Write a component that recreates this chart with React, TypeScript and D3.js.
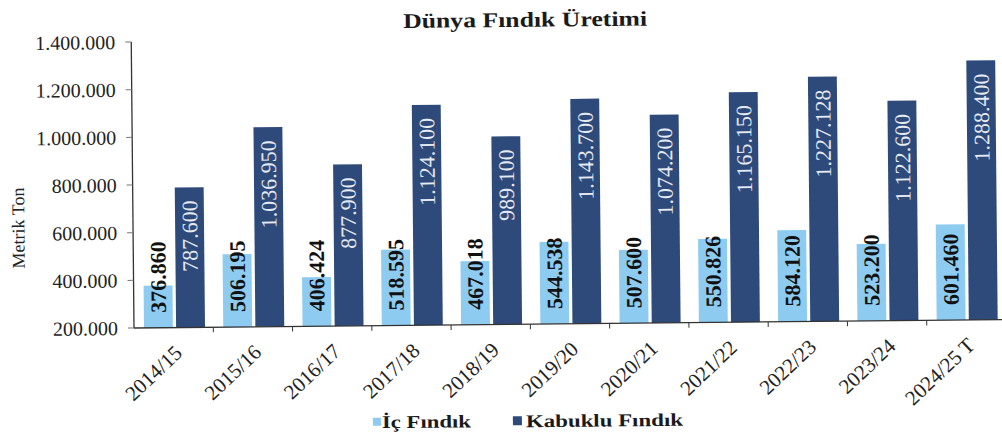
import React from "react";
import * as d3 from "d3";

const categories = ["2014/15", "2015/16", "2016/17", "2017/18", "2018/19", "2019/20", "2020/21", "2021/22", "2022/23", "2023/24", "2024/25 T"];
const icFindik = [376860, 506195, 406424, 518595, 467018, 544538, 507600, 550826, 584120, 523200, 601460];
const kabukluFindik = [787600, 1036950, 877900, 1124100, 989100, 1143700, 1074200, 1165150, 1227128, 1122600, 1288400];
const yTicks = [200000, 400000, 600000, 800000, 1000000, 1200000, 1400000];
const seriesNames = ["İç Fındık", "Kabuklu Fındık"];
const seriesColors = ["#8DCBF1", "#2E4A7A"];

const W = 1002;
const H = 439;
const FONT = "'Liberation Serif', 'Times New Roman', serif";

const fmt = d3.formatLocale({ decimal: ",", thousands: ".", grouping: [3], currency: ["", ""] }).format(",d");

export default function App() {
  const y = d3.scaleLinear().domain([200000, 1400000]).range([328, 42]);
  const x0 = d3.scaleBand<string>().domain(categories).range([134, 1006]).padding(0);
  const x1 = d3.scaleBand<string>().domain(["ic", "kab"]).range([10, 71]).paddingInner(0.1);
  const bw = x1.bandwidth();
  const base = y(200000);

  return (
    <svg width={W} height={H} style={{ position: "absolute", left: 0, top: 0, display: "block", background: "#fff" }} fontFamily={FONT}>
      <g transform="rotate(-0.55, 134, 328)">
        <text x={406} y={30.5} fontSize={21} fontWeight="bold" fill="#1a1a1a" textLength={244} lengthAdjust="spacingAndGlyphs">
          Dünya Fındık Üretimi
        </text>

        {/* Y axis */}
        <line x1={134} x2={134} y1={y(1400000)} y2={base} stroke="#333" strokeWidth={1.3} />
        {yTicks.map((t) => (
          <g key={t}>
            <line x1={128} x2={134} y1={y(t)} y2={y(t)} stroke="#777" strokeWidth={1} />
            <text x={118} y={y(t)} dy="0.35em" textAnchor="end" fontSize={20} fill="#222">
              {fmt(t)}
            </text>
          </g>
        ))}
        <text transform={`translate(19, 227) rotate(-90)`} textAnchor="middle" dy="0.35em" fontSize={18} fill="#222">
          Metrik Ton
        </text>

        {/* Bars */}
        {categories.map((c, i) => {
          const gx = x0(c)!;
          const ic = icFindik[i];
          const kb = kabukluFindik[i];
          const xi = gx + x1("ic")!;
          const xk = gx + x1("kab")!;
          return (
            <g key={c}>
              <rect x={xi} y={y(ic)} width={bw} height={base - y(ic)} fill={seriesColors[0]} />
              <rect x={xk} y={y(kb)} width={bw} height={base - y(kb)} fill={seriesColors[1]} />
              <text
                transform={`translate(${xi + bw / 2}, ${base - 15}) rotate(-90)`}
                dy="0.35em"
                textAnchor="start"
                fontSize={22}
                fontWeight="bold"
                fill="#111"
              >
                {fmt(ic)}
              </text>
              <text
                transform={`translate(${xk + bw / 2}, ${y(kb) + 13}) rotate(-90)`}
                dy="0.35em"
                textAnchor="end"
                fontSize={22}
                fill="#e6eaf2"
              >
                {fmt(kb)}
              </text>
            </g>
          );
        })}

        {/* X axis */}
        <line x1={134} x2={1006} y1={base} y2={base} stroke="#333" strokeWidth={1.3} />
        {categories.map((c) => (
          <line key={"t" + c} x1={x0(c)! + x0.bandwidth()} x2={x0(c)! + x0.bandwidth()} y1={base} y2={base + 5} stroke="#333" strokeWidth={1} />
        ))}
        {categories.map((c) => (
          <text
            key={"l" + c}
            transform={`translate(${x0(c)! + x0.bandwidth() / 2 + 9.5}, ${base + 27}) rotate(-43)`}
            textAnchor="end"
            fontSize={21}
            fill="#222"
          >
            {c}
          </text>
        ))}

        {/* Legend */}
        <rect x={372} y={420} width={8} height={8} fill={seriesColors[0]} />
        <text x={381} y={430.5} fontSize={18} fontWeight="bold" fill="#1a1a1a" textLength={89} lengthAdjust="spacingAndGlyphs">
          {seriesNames[0]}
        </text>
        <rect x={512} y={420} width={9} height={9} fill={seriesColors[1]} />
        <text x={525} y={431} fontSize={18} fontWeight="bold" fill="#1a1a1a" textLength={157} lengthAdjust="spacingAndGlyphs">
          {seriesNames[1]}
        </text>
      </g>
    </svg>
  );
}
